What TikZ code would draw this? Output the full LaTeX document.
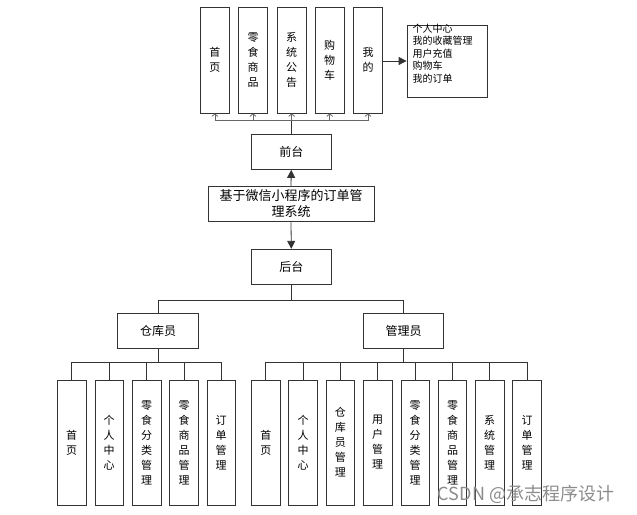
\documentclass[tikz,border=0pt]{standalone}
\usepackage{fontspec}
\setmainfont{Noto Sans CJK SC}
\usetikzlibrary{arrows.meta}
\tikzset{
  box/.style={draw=black!80, line width=0.8pt, fill=white, inner sep=0pt, align=center},
  vbox/.style={box, minimum width=28.5pt, font=\fontsize{11}{15}\selectfont},
  topbox/.style={vbox, minimum height=106pt},
  leaf/.style={vbox, minimum height=125pt},
  hbox/.style={box, minimum width=80.5pt, minimum height=35.5pt, font=\fontsize{12}{15}\selectfont},
  conn/.style={draw=black!80, line width=0.8pt},
  bus/.style={draw=black!60, line width=0.8pt},
  farrow/.style={conn, -{Triangle[length=8pt,width=8pt]}},
  oarrow/.style={bus, -{Straight Barb[length=2.5pt,width=6pt]}}
}
\begin{document}
\begin{tikzpicture}[x=1pt,y=-1pt]
\useasboundingbox (0,0) rectangle (637,514);
% top level boxes
\node[topbox] (t1) at (214.9,60) {首\\页};
\node[topbox] (t2) at (253,60) {零\\食\\商\\品};
\node[topbox] (t3) at (291.7,60) {系\\统\\公\\告};
\node[topbox] (t4) at (329.7,60) {购\\物\\车};
\node[topbox] (t5) at (368,60) {我\\的};
\node[box, minimum width=80pt, minimum height=72pt] (info) at (447,61) {};
\node[anchor=north west, inner sep=0pt, align=left, font=\fontsize{10}{12.5}\selectfont] (infotxt) at (412.5,23.5) {个人中心\\我的收藏管理\\用户充值\\购物车\\我的订单};
% middle
\node[hbox] (qt) at (291.3,151.7) {前台};
\node[box, minimum width=166pt, minimum height=35.7pt, font=\fontsize{13}{16}\selectfont] (main) at (291,204) {基于微信小程序的订单管\\理系统};
\node[hbox] (ht) at (291.3,267) {后台};
\node[hbox] (ck) at (158,331) {仓库员};
\node[hbox] (gl) at (403.5,331) {管理员};
% leaves left
\node[leaf] (a1) at (71.7,442.5) {首\\页};
\node[leaf] (a2) at (109.2,442.5) {个\\人\\中\\心};
\node[leaf] (a3) at (146.7,442.5) {零\\食\\分\\类\\管\\理};
\node[leaf] (a4) at (184,442.5) {零\\食\\商\\品\\管\\理};
\node[leaf] (a5) at (221.2,442.5) {订\\单\\管\\理};
% leaves right
\node[leaf] (b1) at (265.8,442.5) {首\\页};
\node[leaf] (b2) at (303,442.5) {个\\人\\中\\心};
\node[leaf] (b3) at (340.3,442.5) {仓\\库\\员\\管\\理};
\node[leaf] (b4) at (377.7,442.5) {用\\户\\管\\理};
\node[leaf] (b5) at (415.2,442.5) {零\\食\\分\\类\\管\\理};
\node[leaf] (b6) at (452.5,442.5) {零\\食\\商\\品\\管\\理};
\node[leaf] (b7) at (489.7,442.5) {系\\统\\管\\理};
\node[leaf] (b8) at (527,442.5) {订\\单\\管\\理};
% bus coordinates
\coordinate (btop) at (0,120.7);
\coordinate (bmid) at (0,300);
\coordinate (blow) at (0,362);
% top connectors
\draw[conn] (qt.north) -- (qt.north |- btop);
\draw[bus] (t1.south |- btop) -- (t5.south |- btop);
\foreach \n in {t1,t2,t3,t4,t5} \draw[oarrow] (\n.south |- btop) -- (\n.south);
\draw[farrow] (t5.east |- info.west) -- (info.west);
\draw[farrow] (main.north) -- (qt.south);
\draw[farrow] (main.south) -- (ht.north);
% middle connectors
\draw[conn] (ht.south) -- (ht.south |- bmid);
\draw[conn] (ck.north) -- (ck.north |- bmid) -- (gl.north |- bmid) -- (gl.north);
% lower connectors
\draw[conn] (ck.south) -- (ck.south |- blow);
\draw[conn] (a1.north |- blow) -- (a5.north |- blow);
\foreach \n in {a1,a2,a3,a4,a5} \draw[conn] (\n.north |- blow) -- (\n.north);
\draw[conn] (gl.south) -- (gl.south |- blow);
\draw[conn] (b1.north |- blow) -- (b8.north |- blow);
\foreach \n in {b1,b2,b3,b4,b5,b6,b7,b8} \draw[conn] (\n.north |- blow) -- (\n.north);
% watermark
\node[text=black!45, font=\fontsize{18}{20}\selectfont, inner sep=0pt] (wm) at (526,494) {CSDN @承志程序设计};
\end{tikzpicture}
\end{document}
